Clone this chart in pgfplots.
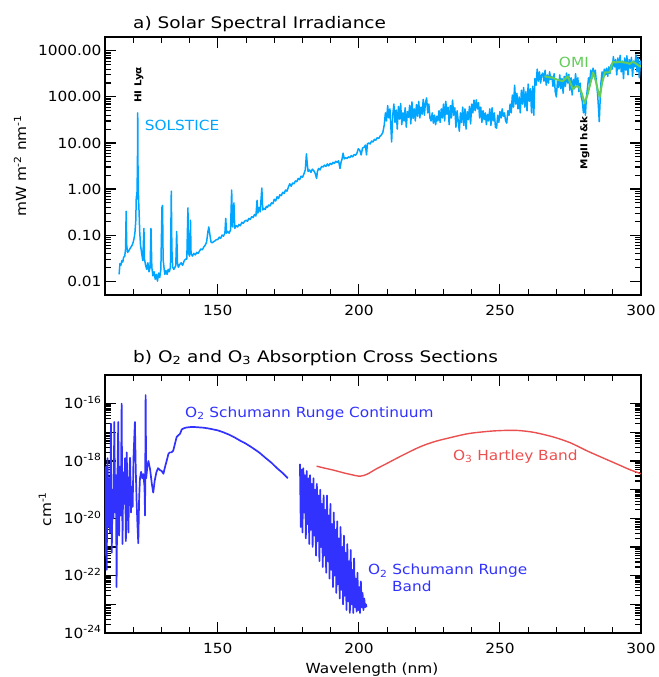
\documentclass[border=0pt]{standalone}
\usepackage{fontspec}
\setmainfont{DejaVu Sans}[FakeStretch=1.1]
\newfontfamily\titlefont{DejaVu Sans}[FakeStretch=1.16]
\usepackage{pgfplots}
\pgfplotsset{compat=1.18}
\definecolor{solblue}{RGB}{0,165,255}
\definecolor{omigreen}{RGB}{100,205,90}
\definecolor{o2blue}{RGB}{50,50,255}
\definecolor{o3red}{RGB}{235,80,80}
\pgfplotsset{
  common/.style={
    scale only axis, width=536bp, height=258bp,
    xmin=110, xmax=300,
    axis line style={line width=1.2bp},
    every tick/.style={black, line width=1.1bp},
    major tick length=11bp, minor tick length=6bp,
    xtick={150,200,250,300},
    minor xtick={120,130,140,160,170,180,190,210,220,230,240,260,270,280,290},
    /pgf/number format/assume math mode=true,
    tick label style={font=\fontsize{14}{16}\selectfont},
    xticklabel style={yshift=-7bp},
    clip=true,
  }
}
\begin{document}
\begin{tikzpicture}
\path (-105bp,-44bp) rectangle (551bp,633bp);
% ---------------- panel a ----------------
\begin{axis}[ymode=log, common, at={(0bp,338bp)}, anchor=south west,
  ymin=0.005, ymax=2000,
  ytick={0.01,0.1,1,10,100,1000},
  yticklabels={0.01,0.10,1.00,10.00,100.00,1000.00},
]
\addplot[solblue, line width=1.5bp, line join=round] table {
115.0 0.014
115.3 0.024
115.6 0.022
116.0 0.028
116.3 0.026
116.6 0.033
117.0 0.035
117.3 0.05
117.5 0.33
117.7 0.06
118.0 0.042
118.4 0.045
118.8 0.05
119.2 0.055
119.6 0.06
120.0 0.07
120.3 0.085
120.6 0.11
120.9 0.2
121.1 0.7
121.3 0.6
121.5 3
121.6 45
121.7 3
121.9 0.6
122.1 0.3
122.3 0.12
122.6 0.06
123.0 0.04
123.4 0.028
123.8 0.14
124.0 0.03
124.4 0.022
124.8 0.018
125.2 0.025
125.6 0.016
126.0 0.02
126.3 0.14
126.6 0.02
127.0 0.013
127.4 0.016
127.8 0.011
128.2 0.014
128.6 0.01
129.0 0.015
129.4 0.012
129.8 0.018
130.2 0.4
130.4 0.44
130.6 0.03
130.9 0.02
131.2 0.014
131.6 0.017
132.0 0.014
132.4 0.018
132.8 0.016
133.2 0.02
133.5 0.9
133.7 0.05
134.0 0.02
134.4 0.018
134.8 0.02
135.1 0.022
135.4 0.12
135.7 0.025
136.0 0.02
136.5 0.023
137.0 0.025
137.5 0.022
138.0 0.027
138.5 0.03
139.0 0.03
139.4 0.39
139.6 0.04
140.0 0.035
140.3 0.21
140.5 0.04
141.0 0.035
141.5 0.04
142.0 0.037
142.5 0.042
143.0 0.04
143.5 0.045
144.0 0.05
144.5 0.048
145.0 0.055
145.5 0.06
146.0 0.07
146.5 0.12
146.8 0.15
147.2 0.1
147.6 0.07
148.0 0.068
148.5 0.072
149.0 0.075
149.5 0.08
150.0 0.08
150.5 0.09
151.0 0.085
151.5 0.1
152.0 0.095
152.5 0.11
152.8 0.23
153.1 0.11
153.5 0.12
154.0 0.11
154.5 0.13
154.9 0.95
155.2 0.15
155.7 0.5
156.0 0.14
156.5 0.16
157.0 0.15
157.5 0.17
158.0 0.16
158.5 0.19
159.0 0.18
159.5 0.2
160.0 0.21
160.5 0.2
161.0 0.23
161.5 0.22
162.0 0.25
162.5 0.24
163.0 0.28
163.5 0.26
163.9 0.57
164.2 0.3
164.6 0.4
165.0 0.32
165.6 1.05
165.9 0.35
166.3 0.38
166.8 0.36
167.2 0.42
167.6 0.4
168.0 0.45
168.5 0.43
169.0 0.5
169.5 0.48
170.0 0.6
170.5 0.55
171.0 0.68
171.5 0.62
172.0 0.75
172.5 0.72
173.0 0.85
173.5 0.8
174.0 0.95
174.5 0.9
175.0 1.1
175.5 1.3
176.0 1.15
176.5 1.35
177.0 1.3
177.5 1.5
178.0 1.45
178.5 1.7
179.0 1.6
179.5 1.9
180.0 1.8
180.5 2.1
181.0 2.6
181.4 5.8
181.7 3.5
182.0 2.4
182.5 2.6
183.0 2.3
183.5 2.7
184.0 2.5
184.5 2.2
185.0 1.7
185.3 2.4
185.7 2.8
186.2 2.6
186.8 3.1
187.3 3.0
187.8 3.3
188.3 3.1
188.8 3.5
189.3 3.2
189.8 3.6
190.3 3.4
190.8 3.8
191.3 3.6
191.8 4.0
192.3 3.8
192.8 4.1
193.3 2.8
193.7 3.9
194.0 4.4
194.4 6.0
194.8 4.5
195.3 4.8
195.8 4.6
196.3 5.0
196.8 4.8
197.3 5.3
197.8 5.0
198.3 5.6
198.8 5.4
199.3 6.0
199.8 7.5
200.3 7.0
200.8 5.5
201.3 7.8
201.8 8.0
202.3 9.0
202.7 5.5
203.0 9.5
203.5 10
204.0 9.5
204.5 11
205.0 10.5
205.5 12
206.0 11.5
206.5 13
207.0 12.5
207.5 14
208.0 15
208.5 17
209.0 25
209.4 45
209.8 30
210.2 65
210.6 35
211.0 55
211.3 25
211.6 10.5
212.0 40
212.4 70
212.8 28
213.2 52
213.6 20
214.0 62
214.4 33
214.8 72
215.2 25
215.6 45
216.0 30
216.4 58
216.8 22
217.2 48
217.6 36
218.0 66
218.4 26
218.8 78
219.2 34
219.6 55
220.0 30
220.4 68
220.8 38
221.2 80
221.6 35
222.0 60
222.4 42
222.8 88
223.2 40
223.6 75
224.0 95
224.4 45
224.8 70
225.2 35
225.6 30
226.0 45
226.4 27
226.8 40
227.2 25
227.6 38
228.0 30
228.4 50
228.8 28
229.2 55
229.6 35
230.0 70
230.4 30
230.8 80
231.2 42
231.6 60
232.0 25
232.4 65
232.8 35
233.2 85
233.6 40
234.0 58
234.4 22
234.8 50
235.2 30
235.6 18
236.0 45
236.4 28
236.8 60
237.2 24
237.6 55
238.0 20
238.4 48
238.8 32
239.2 62
239.6 26
240.0 70
240.4 45
240.8 85
241.2 50
241.6 86
242.0 55
242.4 75
242.8 35
243.2 60
243.6 28
244.0 50
244.4 32
244.8 45
245.2 25
245.6 42
246.0 30
246.4 55
246.8 24
247.2 58
247.6 30
248.0 45
248.4 22
248.8 21
249.2 40
249.6 28
250.0 48
250.4 35
250.8 55
251.2 38
251.6 45
252.0 30
252.4 27
252.8 50
253.2 40
253.6 70
254.0 45
254.4 110
254.8 60
255.2 180
255.6 70
256.0 120
256.4 55
256.8 100
257.2 45
257.6 140
258.0 70
258.4 160
258.8 60
259.2 130
259.6 50
260.0 190
260.4 80
260.8 150
261.2 45
261.6 170
262.0 40
262.4 250
262.8 180
263.2 400
263.6 220
264.0 350
264.4 200
264.8 300
265.2 330
265.6 220
266.0 380
266.4 180
266.8 300
267.2 200
267.6 350
268.0 240
268.4 280
268.8 170
269.2 320
269.6 130
270.0 100
270.4 220
270.8 160
271.2 300
271.6 150
272.0 250
272.4 120
272.8 280
273.2 170
273.6 330
274.0 200
274.4 310
274.8 140
275.2 260
275.6 110
276.0 240
276.4 150
276.8 320
277.2 180
277.6 260
278.0 130
278.4 200
278.8 100
279.2 80
279.6 45
280.0 70
280.3 40
280.6 90
281.0 150
281.4 260
281.8 200
282.2 380
282.6 250
283.0 420
283.4 300
283.8 380
284.2 200
284.6 120
285.0 50
285.2 29
285.5 80
285.8 200
286.2 350
286.6 260
287.0 400
287.4 300
287.8 420
288.2 280
288.6 450
289.0 320
289.4 500
289.8 400
290.2 750
290.6 450
291.0 650
291.4 300
291.8 700
292.2 400
292.6 800
293.0 350
293.4 600
293.8 250
294.2 700
294.6 380
295.0 780
295.4 300
295.8 650
296.2 420
296.6 720
297.0 280
297.4 600
297.8 450
298.2 820
298.6 350
299.0 700
299.4 260
299.8 600
300.0 450
};
\addplot[omigreen, line width=2bp, line join=round] table {
265.8 280
267.0 270
268.8 260
270.0 240
271.0 230
272.3 220
274.0 280
275.0 200
275.8 150
277.0 170
278.0 165
279.0 120
280.0 73
281.0 110
281.9 180
283.0 340
284.0 220
284.7 140
285.4 100
286.2 200
287.2 340
288.9 340
290.0 580
291.0 560
292.5 580
294.0 560
295.0 550
296.0 520
297.0 580
298.0 540
299.6 460
300.0 470
};
\node[solblue, inner sep=0, font=\fontsize{14}{16}\selectfont] at (axis cs:137.3,24.5) {SOLSTICE};
\node[omigreen, inner sep=0, font=\fontsize{14}{16}\selectfont] at (axis cs:276.2,575) {OMI};
\node[rotate=90, inner sep=0, font=\bfseries\fontsize{9.5}{10}\selectfont] at (axis cs:122,182) {HI Lyα};
\node[rotate=90, inner sep=0, font=\bfseries\fontsize{9.5}{10}\selectfont] at (axis cs:280.1,10) {MgII h\&k};
\end{axis}
% ---------------- panel b ----------------
\begin{axis}[ymode=log, common, at={(0bp,0bp)}, anchor=south west,
  ymin=1e-24, ymax=1e-15,
  ytick={1e-24,1e-23,1e-22,1e-21,1e-20,1e-19,1e-18,1e-17,1e-16},
  yticklabels={{10\textsuperscript{-24}},{},{10\textsuperscript{-22}},{},{10\textsuperscript{-20}},{},{10\textsuperscript{-18}},{},{10\textsuperscript{-16}}},
  yticklabel style={anchor=base east, yshift=-5bp},
]
\addplot[o2blue, line width=1.7bp, line join=round] table {
110.0 5.0e-22
110.3 6.3e-19
110.6 1.6e-22
110.9 1.26e-18
111.2 5.0e-21
111.5 2.5e-19
111.8 3.2e-21
112.1 2.0e-17
112.4 6.3e-22
112.7 1.0e-19
113.0 1.0e-20
113.3 2.3e-17
113.6 1.6e-20
113.9 3.2e-19
114.1 4.0e-23
114.4 2.0e-19
114.7 2.3e-17
115.0 2.5e-21
115.3 6.3e-19
115.6 1.26e-20
115.9 1.0e-16
116.2 1.26e-21
116.5 4.0e-19
116.8 3.2e-20
117.1 1.26e-18
117.4 1.6e-21
117.7 2.0e-18
118.0 4.0e-20
118.3 3.2e-21
118.6 2.5e-19
118.9 1.3e-18
119.2 1.6e-20
119.5 1.26e-19
119.8 2.5e-20
120.1 1.26e-18
120.6 2.3e-17
120.9 5.0e-19
121.2 4.0e-20
121.5 6.3e-21
121.8 1.35e-21
122.1 5.0e-20
122.4 2.5e-19
122.8 4.2e-19
123.2 2.5e-19
123.6 3.5e-19
124.0 1.26e-19
124.2 1.26e-20
124.4 2.0e-16
124.6 2.5e-19
125.0 6.3e-19
125.4 1.0e-18
126.0 5.0e-19
126.6 1.6e-19
127.1 7.9e-20
127.6 2.0e-19
128.2 4.0e-19
128.8 5.6e-19
129.5 4.8e-19
130.1 4.5e-19
130.7 3.6e-19
131.3 6.3e-19
131.9 1.05e-18
132.5 1.8e-18
133.0 2.0e-18
133.6 2.0e-18
134.2 2.3e-18
134.8 4.0e-18
135.4 6.9e-18
136.0 7.9e-18
136.6 8.9e-18
137.2 1.26e-17
137.7 1.35e-17
138.5 1.45e-17
139.5 1.5e-17
141.0 1.55e-17
143.0 1.5e-17
145.0 1.45e-17
147.0 1.35e-17
150.0 1.17e-17
152.0 1.0e-17
154.0 8.3e-18
156.0 6.6e-18
157.8 5.2e-18
160.0 4.0e-18
162.0 3.0e-18
164.0 2.2e-18
165.0 1.86e-18
167.0 1.26e-18
169.0 8.7e-19
171.0 5.6e-19
173.0 3.8e-19
174.8 2.5e-19
};
\addplot[o2blue, line width=1.7bp, line join=round] table {
179.1 7.9e-19
179.4 5.0e-21
179.7 5.0e-19
180.0 3.2e-21
180.3 5.6e-19
180.6 1.6e-20
180.9 3.2e-19
181.2 2.0e-21
181.5 4.5e-19
181.8 6.3e-21
182.1 2.5e-19
182.4 1.26e-21
182.7 3.2e-19
183.0 4.0e-21
183.3 1.6e-19
183.6 1.0e-21
183.9 2.5e-19
184.2 2.5e-21
184.5 1.0e-19
184.8 5.0e-22
185.1 1.6e-19
185.4 1.6e-21
185.7 6.3e-20
186.0 3.2e-22
186.3 1.0e-19
186.6 1.0e-21
186.9 3.2e-20
187.2 2.0e-22
187.5 6.3e-20
187.8 5.0e-22
188.1 2.0e-20
188.4 1.26e-22
188.7 6.3e-20
189.0 3.2e-22
189.3 1.26e-20
189.6 7.9e-23
189.9 3.2e-20
190.2 1.6e-22
190.5 6.3e-21
190.8 4.0e-23
191.1 1.6e-20
191.4 1.0e-22
191.7 4.0e-21
192.0 2.5e-23
192.3 7.9e-21
192.6 5.0e-23
192.9 2.0e-21
193.2 1.6e-23
193.5 5.0e-21
193.8 3.2e-23
194.1 1.0e-21
194.4 1.0e-23
194.7 2.5e-21
195.0 2.0e-23
195.3 6.3e-22
195.6 6.3e-24
195.9 1.26e-21
196.2 1.26e-23
196.5 3.2e-22
196.8 5.0e-24
197.1 7.9e-22
197.4 1.0e-23
197.7 1.6e-22
198.0 5.0e-24
198.3 4.0e-22
198.6 7.9e-24
198.9 7.9e-23
199.2 5.6e-24
199.5 1.26e-22
199.8 6.3e-24
200.1 4.0e-23
200.4 5.0e-24
200.7 6.3e-23
201.0 7.9e-24
201.3 2.5e-23
201.6 6.3e-24
201.9 1.6e-23
202.2 7.9e-24
202.5 1.0e-23
202.7 7.9e-24
};
\addplot[o3red, line width=1.4bp, smooth] table {
185.0 6.6e-19
188.0 5.6e-19
191.0 4.8e-19
194.0 4.0e-19
197.0 3.4e-19
200.4 2.95e-19
203.0 3.5e-19
206.0 5.2e-19
209.8 8.1e-19
215.0 1.5e-18
221.6 3.1e-18
227.0 4.8e-18
233.4 6.9e-18
239.0 9.1e-18
245.3 1.07e-17
250.0 1.15e-17
255.9 1.17e-17
262.0 1.0e-17
268.9 6.9e-18
275.0 4.3e-18
280.7 2.3e-18
286.0 1.35e-18
292.5 7.1e-19
296.0 5.0e-19
300.0 3.6e-19
};
\node[o2blue, anchor=west, inner sep=0, font=\fontsize{14}{16}\selectfont] at (axis cs:138.35,4.6e-17) {O\textsubscript{2} Schumann Runge Continuum};
\node[o3red, anchor=west, inner sep=0, font=\fontsize{14}{16}\selectfont] at (axis cs:233.3,1.45e-18) {O\textsubscript{3} Hartley Band};
\node[o2blue, anchor=west, inner sep=0, font=\fontsize{14}{16}\selectfont] at (axis cs:203.2,1.45e-22) {O\textsubscript{2} Schumann Runge};
\node[o2blue, anchor=west, inner sep=0, font=\fontsize{14}{16}\selectfont] at (axis cs:211.7,4.3e-23) {Band};
\end{axis}
% ---------------- titles and labels ----------------
\node[anchor=west, inner sep=0, font=\titlefont\fontsize{16}{18}\selectfont] at (28bp,609bp) {a) Solar Spectral Irradiance};
\node[anchor=west, inner sep=0, font=\titlefont\fontsize{16}{18}\selectfont] at (28bp,275bp) {b) O\textsubscript{2} and O\textsubscript{3} Absorption Cross Sections};
\node[rotate=90, inner sep=0, font=\fontsize{14}{16}\selectfont] at (-85bp,467bp) {mW m\textsuperscript{-2} nm\textsuperscript{-1}};
\node[rotate=90, inner sep=0, font=\fontsize{14}{16}\selectfont] at (-60bp,124bp) {cm\textsuperscript{-1}};
\node[inner sep=0, font=\fontsize{14}{16}\selectfont] at (267bp,-37bp) {Wavelength (nm)};
\end{tikzpicture}
\end{document}
